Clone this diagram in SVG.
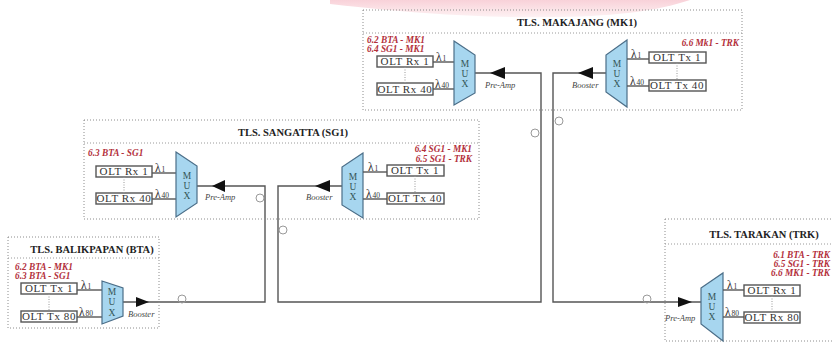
<svg xmlns="http://www.w3.org/2000/svg" width="832" height="345" viewBox="0 0 832 345">
<defs>
<linearGradient id="pink" x1="0" y1="0" x2="0" y2="1">
<stop offset="0" stop-color="#f7c6cf"/>
<stop offset="1" stop-color="#fdeef0"/>
</linearGradient>
</defs>
<style>
.site{fill:none;stroke:#8c8c8c;stroke-width:1;stroke-dasharray:1 2}
.sep{fill:none;stroke:#9a9a9a;stroke-width:1;stroke-dasharray:1 2}
.olt{fill:#fff;stroke:#555;stroke-width:1.4}
.oltt{font-family:"Liberation Serif",serif;font-size:11px;letter-spacing:0.6px;fill:#333;text-anchor:middle}
.title{font-family:"Liberation Serif",serif;font-size:10.5px;font-weight:bold;fill:#222;text-anchor:middle}
.red{font-family:"Liberation Serif",serif;font-size:9.3px;font-weight:bold;font-style:italic;fill:#b3303b}
.lam{font-family:"Liberation Serif",serif;font-size:11.5px;fill:#333}
.lam tspan{font-size:7.5px}
.mux{fill:#a7d6ef;stroke:#4b6e88;stroke-width:1.2}
.muxt{font-family:"Liberation Serif",serif;font-size:9.5px;fill:#355;text-anchor:middle}
.amp{font-family:"Liberation Serif",serif;font-size:8.5px;font-style:italic;fill:#444}
.line{fill:none;stroke:#555;stroke-width:1.4}
.arr{fill:#111}
.dot{fill:none;stroke:#999;stroke-width:1;stroke-dasharray:1 1.5}
.loop{fill:none;stroke:#999;stroke-width:1}
</style>
<rect width="832" height="345" fill="#fff"/>
<path d="M330,0 H690 C660,10 620,16 560,17 C480,18 420,14 330,4 Z" fill="url(#pink)" opacity="0.8"/>

<g id="connectors">
<path class="line" d="M123,302 H265 V186 H197"/>
<path class="line" d="M342,186 H278 V302 H541 V73 H475"/>
<path class="line" d="M606,73 H553 V302 H701"/>
<polygon class="arr" points="149,302 136,297 136,307"/>
<polygon class="arr" points="212,186 225,180 225,192"/>
<polygon class="arr" points="315,186 330,180 330,192"/>
<polygon class="arr" points="490,73 505,67 505,79"/>
<polygon class="arr" points="578,73 593,67 593,79"/>
<polygon class="arr" points="692,302 678,297 678,307"/>
<circle class="loop" cx="182" cy="299" r="4"/>
<circle class="loop" cx="260" cy="198" r="4"/>
<circle class="loop" cx="283" cy="230" r="4"/>
<circle class="loop" cx="535" cy="133" r="4"/>
<circle class="loop" cx="559" cy="121" r="4"/>
<circle class="loop" cx="647" cy="299" r="4"/>
</g>

<g id="mk1">
<rect class="site" x="363" y="10" width="379" height="100"/>
<line class="sep" x1="363" y1="33" x2="742" y2="33"/>
<text class="title" x="577" y="26">TLS. MAKAJANG (MK1)</text>
<text class="red" x="367" y="43">6.2 BTA - MK1</text>
<text class="red" x="367" y="52">6.4 SG1 - MK1</text>
<text class="red" x="739" y="46" text-anchor="end">6.6 Mk1 - TRK</text>
<rect class="olt" x="377" y="56" width="56" height="11"/>
<text class="oltt" x="405" y="65">OLT Rx 1</text>
<rect class="olt" x="377" y="83" width="56" height="12"/>
<text class="oltt" x="405" y="93">OLT Rx 40</text>
<line class="dot" x1="405" y1="67" x2="405" y2="83"/>
<line class="line" x1="433" y1="62" x2="454" y2="62"/>
<line class="line" x1="433" y1="89" x2="454" y2="89"/>
<text class="lam" x="436" y="61">λ<tspan dx="1">1</tspan></text>
<text class="lam" x="435" y="88">λ<tspan dx="1">40</tspan></text>
<polygon class="mux" points="454,41 475,55 475,93 454,105"/>
<text class="muxt" x="465" y="67">M</text>
<text class="muxt" x="465" y="77">U</text>
<text class="muxt" x="465" y="87">X</text>
<text class="amp" x="485" y="88">Pre-Amp</text>
<polygon class="mux" points="627,40 606,55 606,92 627,107"/>
<text class="muxt" x="617" y="67">M</text>
<text class="muxt" x="617" y="77">U</text>
<text class="muxt" x="617" y="87">X</text>
<text class="amp" x="572" y="88">Booster</text>
<line class="line" x1="627" y1="59" x2="649" y2="59"/>
<line class="line" x1="627" y1="86" x2="649" y2="86"/>
<text class="lam" x="631" y="58">λ<tspan dx="1">1</tspan></text>
<text class="lam" x="630" y="85">λ<tspan dx="1">40</tspan></text>
<rect class="olt" x="649" y="52" width="57" height="11"/>
<text class="oltt" x="677" y="61">OLT Tx 1</text>
<rect class="olt" x="649" y="80" width="57" height="11"/>
<text class="oltt" x="677" y="89">OLT Tx 40</text>
<line class="dot" x1="677" y1="63" x2="677" y2="80"/>
</g>

<g id="sg1">
<rect class="site" x="84" y="120" width="395" height="99"/>
<line class="sep" x1="84" y1="143" x2="479" y2="143"/>
<text class="title" x="293" y="136">TLS. SANGATTA (SG1)</text>
<text class="red" x="88" y="156">6.3 BTA - SG1</text>
<text class="red" x="472" y="152" text-anchor="end">6.4 SG1 - MK1</text>
<text class="red" x="472" y="162" text-anchor="end">6.5 SG1 - TRK</text>
<rect class="olt" x="96" y="166" width="56" height="11"/>
<text class="oltt" x="124" y="175">OLT Rx 1</text>
<rect class="olt" x="96" y="193" width="56" height="11"/>
<text class="oltt" x="124" y="202">OLT Rx 40</text>
<line class="dot" x1="124" y1="177" x2="124" y2="193"/>
<line class="line" x1="152" y1="173" x2="176" y2="173"/>
<line class="line" x1="152" y1="199" x2="176" y2="199"/>
<text class="lam" x="155" y="172">λ<tspan dx="1">1</tspan></text>
<text class="lam" x="155" y="198">λ<tspan dx="1">40</tspan></text>
<polygon class="mux" points="176,152 197,166 197,203 176,217"/>
<text class="muxt" x="187" y="179">M</text>
<text class="muxt" x="187" y="189">U</text>
<text class="muxt" x="187" y="199">X</text>
<text class="amp" x="205" y="200">Pre-Amp</text>
<polygon class="mux" points="363,153 342,167 342,205 363,218"/>
<text class="muxt" x="353" y="180">M</text>
<text class="muxt" x="353" y="190">U</text>
<text class="muxt" x="353" y="200">X</text>
<text class="amp" x="306" y="200">Booster</text>
<line class="line" x1="363" y1="172" x2="387" y2="172"/>
<line class="line" x1="363" y1="199" x2="387" y2="199"/>
<text class="lam" x="368" y="171">λ<tspan dx="1">1</tspan></text>
<text class="lam" x="366" y="198">λ<tspan dx="1">40</tspan></text>
<rect class="olt" x="387" y="165" width="57" height="11"/>
<text class="oltt" x="415" y="174">OLT Tx 1</text>
<rect class="olt" x="387" y="193" width="57" height="11"/>
<text class="oltt" x="415" y="202">OLT Tx 40</text>
<line class="dot" x1="415" y1="176" x2="415" y2="193"/>
</g>

<g id="bta">
<rect class="site" x="8" y="237" width="151" height="91"/>
<line class="sep" x1="8" y1="258" x2="159" y2="258"/>
<text class="title" x="92" y="253">TLS. BALIKPAPAN (BTA)</text>
<text class="red" x="15" y="270">6.2 BTA - MK1</text>
<text class="red" x="15" y="279">6.3 BTA - SG1</text>
<rect class="olt" x="21" y="283" width="56" height="11"/>
<text class="oltt" x="49" y="292">OLT Tx 1</text>
<rect class="olt" x="21" y="311" width="56" height="11"/>
<text class="oltt" x="49" y="320">OLT Tx 80</text>
<line class="dot" x1="49" y1="294" x2="49" y2="311"/>
<line class="line" x1="77" y1="290" x2="102" y2="290"/>
<line class="line" x1="77" y1="317" x2="102" y2="317"/>
<text class="lam" x="81" y="289">λ<tspan dx="1">1</tspan></text>
<text class="lam" x="79" y="316">λ<tspan dx="1">80</tspan></text>
<polygon class="mux" points="102,281 123,288 123,316 102,324"/>
<text class="muxt" x="112" y="295">M</text>
<text class="muxt" x="112" y="305">U</text>
<text class="muxt" x="112" y="316">X</text>
<text class="amp" x="128" y="317">Booster</text>
</g>

<g id="trk">
<rect class="site" x="665" y="219" width="180" height="122"/>
<line class="sep" x1="665" y1="244" x2="832" y2="244"/>
<text class="title" x="764" y="238">TLS. TARAKAN (TRK)</text>
<text class="red" x="830" y="258" text-anchor="end">6.1 BTA - TRK</text>
<text class="red" x="830" y="267" text-anchor="end">6.5 SG1 - TRK</text>
<text class="red" x="830" y="276" text-anchor="end">6.6 MK1 - TRK</text>
<polygon class="mux" points="701,288 723,273 723,341 701,324"/>
<text class="muxt" x="712" y="300">M</text>
<text class="muxt" x="712" y="310">U</text>
<text class="muxt" x="712" y="320">X</text>
<text class="amp" x="665" y="321">Pre-Amp</text>
<line class="line" x1="723" y1="290" x2="744" y2="290"/>
<line class="line" x1="723" y1="317" x2="744" y2="317"/>
<text class="lam" x="727" y="289">λ<tspan dx="1">1</tspan></text>
<text class="lam" x="725" y="316">λ<tspan dx="1">80</tspan></text>
<rect class="olt" x="744" y="285" width="56" height="11"/>
<text class="oltt" x="772" y="294">OLT Rx 1</text>
<rect class="olt" x="744" y="312" width="56" height="11"/>
<text class="oltt" x="772" y="321">OLT Rx 80</text>
<line class="dot" x1="772" y1="296" x2="772" y2="312"/>
</g>
</svg>
